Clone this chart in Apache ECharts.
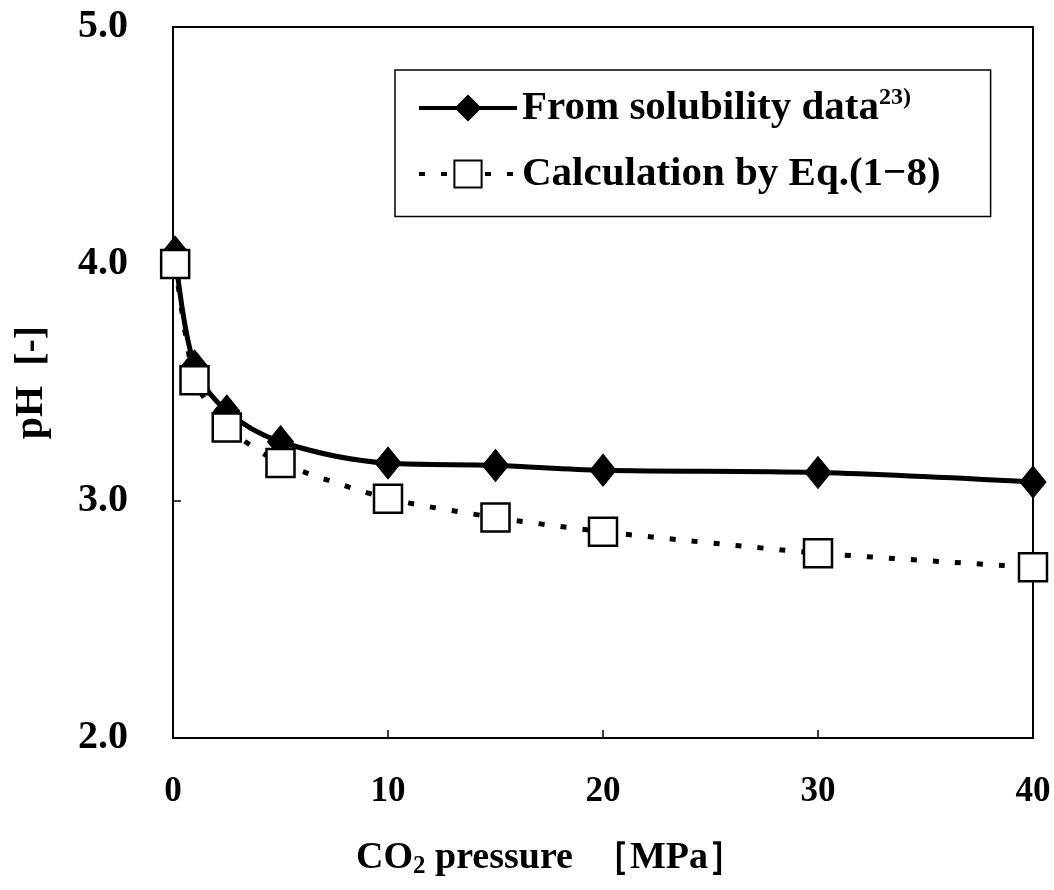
<!DOCTYPE html>
<html>
<head>
<meta charset="utf-8">
<script src="https://cdn.jsdelivr.net/npm/echarts@6/dist/echarts.min.js"></script>
<style>
  html, body { margin: 0; padding: 0; background: #fff; }
  #chart { width: 1054px; height: 890px; }
</style>
</head>
<body>
<div id="chart"></div>
<script>
// CO2 pressure [MPa]
var pressure = [0.1, 1, 2.5, 5, 10, 15, 20, 30, 40];
// pH from solubility data
var phSolubility = [4.05, 3.57, 3.38, 3.25, 3.16, 3.15, 3.13, 3.12, 3.08];
// pH calculated by Eq.(1-8)
var phCalc = [4.0, 3.51, 3.31, 3.16, 3.01, 2.93, 2.87, 2.78, 2.72];
var xTicks = [0, 10, 20, 30, 40];
var yTicks = [2.0, 3.0, 4.0, 5.0];

var serif = "'Liberation Serif', 'DejaVu Serif', serif";

function pairs(xs, ys) {
  return xs.map(function (x, i) { return [x, ys[i]]; });
}

var chart = echarts.init(document.getElementById("chart"));
var option = {
  backgroundColor: "#fff",
  animation: false,
  grid: {
    left: 173,
    right: 21,
    top: 27,
    bottom: 152,
    show: true,
    borderColor: "#000",
    borderWidth: 2,
  },
  legend: {
    left: 395,
    top: 70,
    orient: "vertical",
    align: "left",
    itemGap: 25,
    itemWidth: 98,
    itemHeight: 34,
    padding: [16, 50, 22, 22],
    borderColor: "#000",
    borderWidth: 1.5,
    backgroundColor: "#fff",
    lineStyle: { width: 4 },
    textStyle: {
      fontFamily: serif,
      fontWeight: "bold",
      fontSize: 41,
      color: "#000",
      rich: {
        b: { fontFamily: serif, fontWeight: "bold", fontSize: 41, color: "#000" },
        sup: { fontFamily: serif, fontWeight: "bold", fontSize: 24, color: "#000", verticalAlign: "top", padding: [0, 0, 20, 0] },
      },
    },
    formatter: function (name) {
      if (name === "From solubility data") {
        return "{b|From solubility data}{sup|23)}";
      }
      return "{b|" + name + "}";
    },
    data: ["From solubility data", "Calculation by Eq.(1\u22128)"],
  },
  xAxis: {
    type: "value",
    min: 0,
    max: 40,
    interval: 10,
    name: "{a|CO}{s|2}{a| pressure  ［MPa］}",
    nameLocation: "middle",
    nameGap: 100,
    nameTextStyle: {
      padding: [0, 104, 0, 0],
      rich: {
        a: { fontFamily: serif, fontWeight: "bold", fontSize: 38, color: "#000" },
        s: { fontFamily: serif, fontWeight: "bold", fontSize: 25, color: "#000", verticalAlign: "bottom", padding: [16, 0, 0, 0] },
      },
    },
    axisLine: { lineStyle: { color: "#000", width: 2 } },
    axisTick: { inside: true, length: 8, lineStyle: { color: "#000", width: 1.5 } },
    splitLine: { show: false },
    axisLabel: {
      margin: 36,
      fontFamily: serif,
      fontWeight: "bold",
      fontSize: 35,
      color: "#000",
      formatter: function (v) { return xTicks.indexOf(v) >= 0 ? String(v) : ""; },
    },
  },
  yAxis: {
    type: "value",
    min: 2,
    max: 5,
    interval: 1,
    name: "pH  [-]",
    nameLocation: "middle",
    nameGap: 121,
    nameTextStyle: {
      fontFamily: serif,
      fontWeight: "bold",
      fontSize: 40,
      color: "#000",
    },
    axisLine: { lineStyle: { color: "#000", width: 2 } },
    axisTick: { inside: true, length: 8, lineStyle: { color: "#000", width: 1.5 } },
    splitLine: { show: false },
    axisLabel: {
      margin: 45,
      fontFamily: serif,
      fontWeight: "bold",
      fontSize: 40,
      color: "#000",
      formatter: function (v) {
        var s = v.toFixed(1);
        return yTicks.indexOf(Number(s)) >= 0 ? s : "";
      },
    },
  },
  series: [
    {
      name: "From solubility data",
      type: "line",
      smooth: 0.35,
      data: pairs(pressure, phSolubility),
      symbol: "diamond",
      symbolSize: [26, 32],
      itemStyle: { color: "#000", borderColor: "#000" },
      lineStyle: { color: "#000", width: 5 },
      z: 2,
    },
    {
      name: "Calculation by Eq.(1\u22128)",
      type: "line",
      smooth: 0.2,
      data: pairs(pressure, phCalc),
      symbol: "rect",
      symbolSize: 28,
      itemStyle: { color: "#fff", borderColor: "#000", borderWidth: 2.5 },
      lineStyle: { color: "#000", width: 5, type: [6, 16] },
      z: 3,
    },
  ],
};
chart.setOption(option);
</script>
</body>
</html>
